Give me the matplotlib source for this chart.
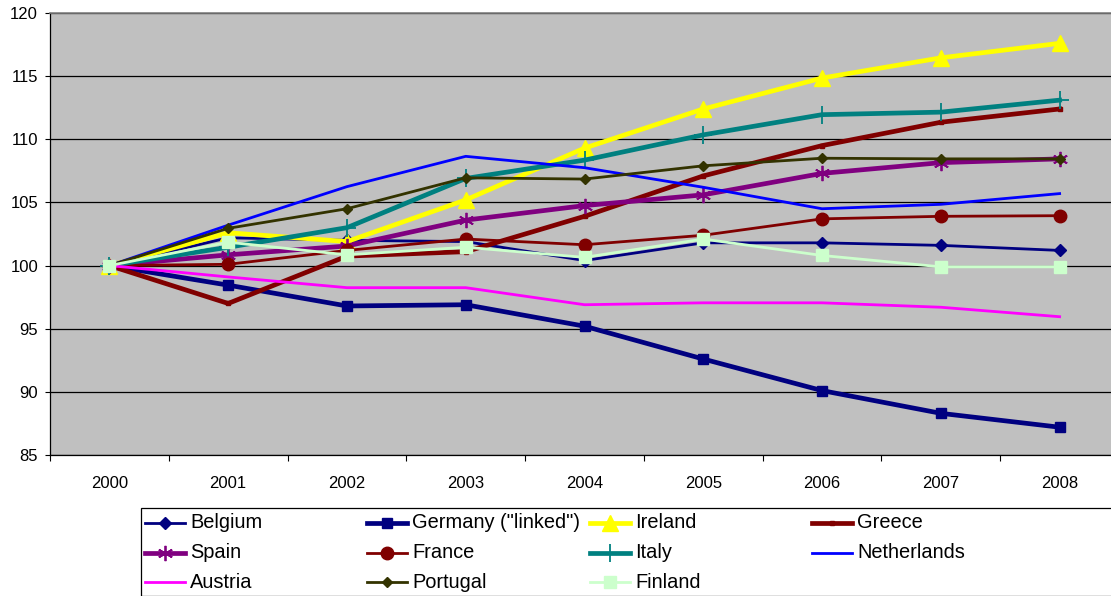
import matplotlib.pyplot as plt
from matplotlib.lines import Line2D
from matplotlib.patches import Rectangle

plt.rcParams['font.family'] = ['Liberation Sans', 'DejaVu Sans']

years = ["2000", "2001", "2002", "2003", "2004", "2005", "2006", "2007", "2008"]

belgium = [100, 102.2, 102.0, 101.9, 100.4, 101.8, 101.8, 101.6, 101.2]
germany = [100, 98.45, 96.8, 96.9, 95.2, 92.6, 90.1, 88.3, 87.2]
ireland = [100, 102.6, 101.9, 105.2, 109.3, 112.4, 114.85, 116.45, 117.6]
greece = [100, 97.0, 100.75, 101.1, 103.9, 107.1, 109.5, 111.35, 112.4]
spain = [100, 100.85, 101.55, 103.6, 104.75, 105.6, 107.3, 108.15, 108.45]
france = [100, 100.1, 101.2, 102.1, 101.65, 102.4, 103.7, 103.9, 103.95]
italy = [100, 101.45, 103.0, 106.9, 108.35, 110.35, 111.95, 112.15, 113.1]
netherlands = [100, 103.2, 106.25, 108.65, 107.75, 106.2, 104.5, 104.85, 105.7]
austria = [100, 99.1, 98.25, 98.25, 96.9, 97.05, 97.05, 96.7, 95.95]
portugal = [100, 102.95, 104.5, 106.95, 106.85, 107.9, 108.5, 108.45, 108.45]
finland = [100, 101.85, 100.85, 101.45, 100.65, 102.1, 100.8, 99.9, 99.9]

# label, values, colour, line width, marker, marker size
series = [
    ("Belgium", belgium, "#000080", 2.0, "D", 6.5),
    ('Germany ("linked")', germany, "#000080", 3.4, "s", 6.5),
    ("Ireland", ireland, "#FFFF00", 3.4, "^", 11),
    ("Greece", greece, "#800000", 3.4, "s", 3.5),
    ("Spain", spain, "#800080", 3.4, (6, 2, 0), 11),
    ("France", france, "#800000", 2.0, "o", 9),
    ("Italy", italy, "#008080", 3.4, "+", 13),
    ("Netherlands", netherlands, "#0000FF", 2.0, None, 0),
    ("Austria", austria, "#FF00FF", 2.0, None, 0),
    ("Portugal", portugal, "#333300", 2.0, "D", 5),
    ("Finland", finland, "#CCFFCC", 2.0, "s", 9),
]

W, H = 1111, 596
fig = plt.figure(figsize=(W / 100, H / 100), dpi=100, facecolor="w")
# plot area runs a bit past the right edge of the figure
ax = fig.add_axes([50 / W, 1 - 455 / H, (1119 - 50) / W, (455 - 13) / H])
ax.set_facecolor("#C0C0C0")

x = list(range(len(years)))
for name, vals, col, lw, mk, ms in series:
    mew = 1.3 if mk in ("+", (6, 2, 0)) else 1
    ax.plot(x, vals, color=col, lw=lw, marker=mk, ms=ms, mew=mew,
            mec=col, mfc=col, zorder=3)

ax.set_xlim(-0.5, 8.5)
ax.set_ylim(85, 120)
ax.set_yticks(range(85, 121, 5))
ax.yaxis.grid(True, color="#000000", lw=0.9, zorder=1)
ax.set_axisbelow(True)

# ticks between the categories, labels centred on them
ax.set_xticks([i - 0.5 for i in range(len(years) + 1)])
ax.set_xticklabels([])
ax.set_xticks(x, minor=True)
ax.set_xticklabels(years, minor=True, fontsize=12)
ax.tick_params(axis="x", which="major", direction="out", length=4.5, width=0.8)
ax.tick_params(axis="x", which="minor", length=0, pad=15)
ax.tick_params(axis="y", direction="out", length=3.6, width=0.8, labelsize=12, pad=5)

for side in ("left", "bottom"):
    ax.spines[side].set_color("#000000")
    ax.spines[side].set_linewidth(0.9)
ax.spines["top"].set_color("#808080")
ax.spines["top"].set_linewidth(1.2)
ax.spines["right"].set_visible(False)

# legend: four equal-width columns filled row by row
fig.add_artist(Rectangle((141 / W, 0), 1, 1 - 508 / H, transform=fig.transFigure,
                         fill=False, edgecolor="#000000", lw=0.9))
col_x = [145, 367, 590, 812]
row_y = [523, 553, 582]
for i, (name, vals, col, lw, mk, ms) in enumerate(series):
    cx = col_x[i % 4]
    cy = row_y[i // 4]
    xs = [cx / W, (cx + 20) / W, (cx + 40) / W]
    ys = [1 - cy / H] * 3
    mew = 1.3 if mk in ("+", (6, 2, 0)) else 1
    fig.add_artist(Line2D(xs, ys, transform=fig.transFigure, color=col, lw=lw,
                          marker=mk, ms=ms, mew=mew, mec=col, mfc=col, markevery=[1]))
    fig.text((cx + 45) / W, 1 - cy / H, name, fontsize=14.4, va="center", ha="left")

fig.savefig("out.png", dpi=100, facecolor="white")
